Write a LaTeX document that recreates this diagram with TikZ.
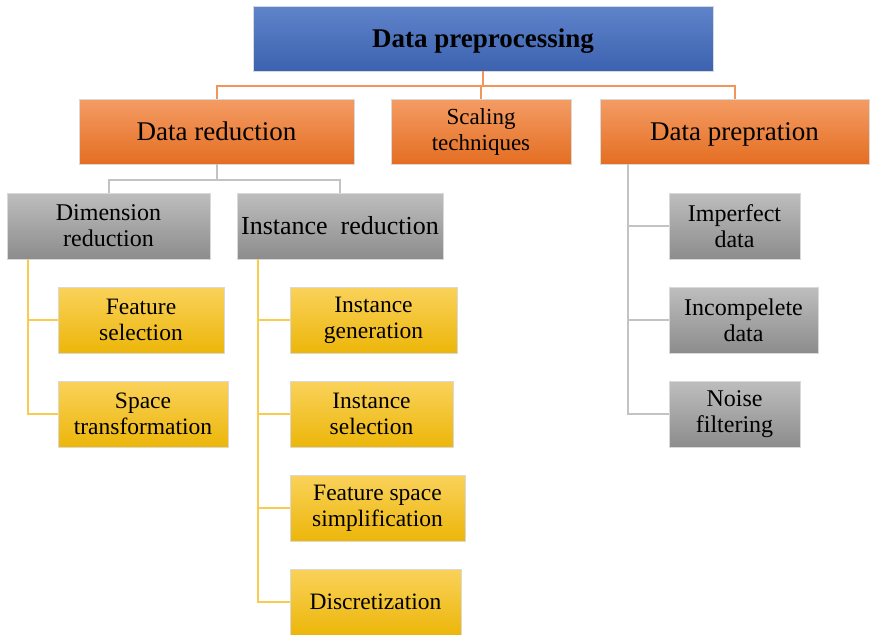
\documentclass[tikz,border=0pt]{standalone}
\usepackage{fontspec}
\setmainfont{Liberation Serif}
\begin{document}
\begin{tikzpicture}[x=1pt,y=-1pt,
  bx/.style={inner sep=0pt, align=center, draw=white!85!black, line width=0.6pt},
  tb/.style={bx, top color={rgb,255:red,96;green,132;blue,202}, bottom color={rgb,255:red,60;green,98;blue,176}, font=\fontsize{27}{30}\selectfont\bfseries},
  ob/.style={bx, top color={rgb,255:red,244;green,156;blue,100}, bottom color={rgb,255:red,228;green,110;blue,34}, font=\fontsize{27}{28}\selectfont},
  ob2/.style={bx, top color={rgb,255:red,244;green,156;blue,100}, bottom color={rgb,255:red,228;green,110;blue,34}, font=\fontsize{23}{26}\selectfont},
  gb/.style={bx, top color={rgb,255:red,190;green,190;blue,190}, bottom color={rgb,255:red,140;green,140;blue,140}, font=\fontsize{24}{26}\selectfont},
  gbl/.style={bx, top color={rgb,255:red,190;green,190;blue,190}, bottom color={rgb,255:red,140;green,140;blue,140}, font=\fontsize{26}{28}\selectfont},
  yb/.style={bx, top color={rgb,255:red,250;green,210;blue,90}, bottom color={rgb,255:red,236;green,182;blue,10}, font=\fontsize{23.5}{26}\selectfont},
  ol/.style={draw={rgb,255:red,240;green,150;blue,90}, line width=2pt},
  gl/.style={draw={rgb,255:red,195;green,195;blue,195}, line width=2pt},
  yl/.style={draw={rgb,255:red,248;green,204;blue,80}, line width=2pt}
]
\useasboundingbox (0,0) rectangle (871,635);
% top
\node[tb, minimum width=460, minimum height=65, text depth=0pt] (dp) at (483,38.5) {Data preprocessing};
% level 1
\node[ob, minimum width=275, minimum height=65] (dr) at (216.5,131.5) {Data reduction};
\node[ob2, minimum width=180, minimum height=65] (sc) at (481,131.5) {Scaling\\techniques};
\node[ob, minimum width=269, minimum height=65, text depth=0pt] (dpr) at (734.5,131.5) {Data prepration};
% level 2
\node[gb, minimum width=203, minimum height=66] (dim) at (108.5,226) {Dimension\\reduction};
\node[gbl, minimum width=206, minimum height=66] (ins) at (340,226) {Instance\ \ reduction};
\node[gb, minimum width=131, minimum height=66] (imp) at (734.5,226) {Imperfect\\data};
\node[gb, minimum width=149, minimum height=66] (inc) at (743.5,320) {Incompelete\\data};
\node[gb, minimum width=131, minimum height=66] (noi) at (734.5,414) {Noise\\filtering};
% level 3
\node[yb, minimum width=166, minimum height=66] (fs) at (141,320) {Feature\\selection};
\node[yb, minimum width=170, minimum height=66] (st) at (143,414) {Space\\transformation};
\node[yb, minimum width=167, minimum height=66] (ig) at (373.5,320) {Instance\\generation};
\node[yb, minimum width=163, minimum height=66] (is) at (371.5,414) {Instance\\selection};
\node[yb, minimum width=175, minimum height=66] (fss) at (377.5,508) {Feature space\\simplification};
\node[yb, minimum width=171, minimum height=66] (dis) at (375.5,602) {Discretization};
% connectors
\coordinate (bar) at (483,86);
\draw[ol] (dp.south) -- (bar);
\draw[ol] (bar) -| (dr.north);
\draw[ol] (bar) -| (sc.north);
\draw[ol] (bar) -| (dpr.north);
\coordinate (gbar) at (216.5,180);
\draw[gl] (dr.south) -- (gbar);
\draw[gl] (gbar) -| (dim.north);
\draw[gl] (gbar) -| (ins.north);
\draw[yl] ([xshift=21pt]dim.south west) |- (fs.west);
\draw[yl] ([xshift=21pt]dim.south west) |- (st.west);
\draw[yl] ([xshift=21pt]ins.south west) |- (ig.west);
\draw[yl] ([xshift=21pt]ins.south west) |- (is.west);
\draw[yl] ([xshift=21pt]ins.south west) |- (fss.west);
\draw[yl] ([xshift=21pt]ins.south west) |- (dis.west);
\draw[gl] ([xshift=28pt]dpr.south west) |- (imp.west);
\draw[gl] ([xshift=28pt]dpr.south west) |- (inc.west);
\draw[gl] ([xshift=28pt]dpr.south west) |- (noi.west);
\end{tikzpicture}
\end{document}
